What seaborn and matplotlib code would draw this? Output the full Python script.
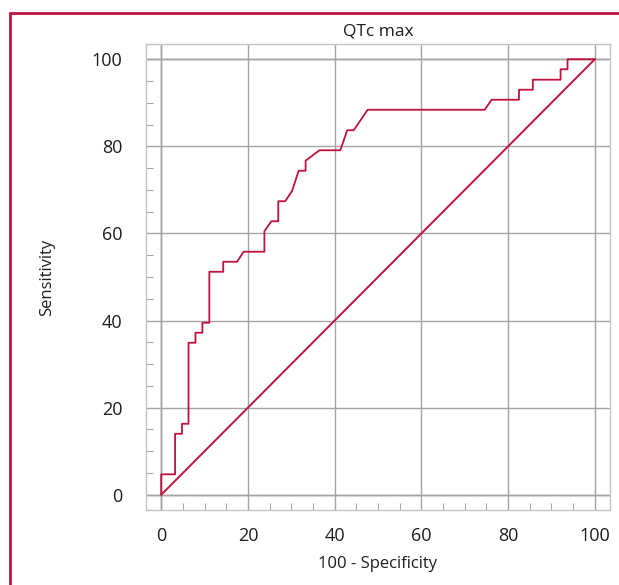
import numpy as np
import pandas as pd
import seaborn as sns
import matplotlib.pyplot as plt
from matplotlib.lines import Line2D
from matplotlib.ticker import MultipleLocator

# ROC curve vertices (100 - specificity, sensitivity)
fpr = [0, 0, 3.2, 3.2, 4.8, 4.8, 6.3, 6.3, 7.9, 7.9, 9.5, 9.5, 11.1, 11.1,
       14.3, 14.3, 17.5, 19.0, 23.8, 23.8, 25.4, 27.0, 27.0, 28.6, 30.2,
       31.7, 33.3, 33.3, 36.5, 41.3, 42.9, 44.4, 47.6, 74.6, 76.2, 82.5,
       82.5, 85.7, 85.7, 92.1, 92.1, 93.7, 93.7, 100]
tpr = [0, 4.7, 4.7, 14.0, 14.0, 16.3, 16.3, 34.9, 34.9, 37.2, 37.2, 39.5,
       39.5, 51.2, 51.2, 53.5, 53.5, 55.8, 55.8, 60.5, 62.8, 62.8, 67.4,
       67.4, 69.8, 74.4, 74.4, 76.7, 79.1, 79.1, 83.7, 83.7, 88.4, 88.4,
       90.7, 90.7, 93.0, 93.0, 95.3, 95.3, 97.7, 97.7, 100, 100]
ref_x = [0, 100]
ref_y = [0, 100]
ticks = [0, 20, 40, 60, 80, 100]

red = "#c0123c"
sns.set_style("white")
plt.rcParams['font.family'] = ['Open Sans', 'DejaVu Sans']

fig = plt.figure(figsize=(6.19, 5.85), dpi=100)
ax = fig.add_axes([0.2359, 0.1282, 0.7496, 0.7966])

roc = pd.DataFrame({"x": fpr, "y": tpr})
diag = pd.DataFrame({"x": ref_x, "y": ref_y})
sns.lineplot(data=diag, x="x", y="y", color=red, lw=1.4, sort=False, estimator=None, ax=ax)
sns.lineplot(data=roc, x="x", y="y", color=red, lw=1.3, sort=False, estimator=None, ax=ax)

ax.set_xlim(-3.5, 103.5)
ax.set_ylim(-3.5, 103.5)
ax.set_xticks(ticks)
ax.set_yticks(ticks)
ax.xaxis.set_minor_locator(MultipleLocator(5))
ax.yaxis.set_minor_locator(MultipleLocator(5))
ax.grid(True, which='major', color='#a4a4a4', lw=1.0)
ax.set_axisbelow(True)
ax.axvline(0, color='#7c7c7c', lw=1.0, zorder=0.5)
ax.axhline(0, color='#7c7c7c', lw=1.0, zorder=0.5)
ax.axhline(100, color='#7c7c7c', lw=1.0, zorder=0.5)

ax.tick_params(axis='both', which='major', length=0, labelsize=13, colors='#1e1e1e')
ax.tick_params(axis='x', which='major', pad=12)
ax.tick_params(axis='y', which='major', pad=17)
ax.tick_params(axis='both', which='minor', direction='in', length=5, width=0.8,
               color='#a8a8a8', bottom=True, left=True, top=False, right=False)
for s in ax.spines.values():
    s.set_color('#c4c4c4')
    s.set_linewidth(1.0)

ax.set_title("QTc max", fontsize=12.5, color='#1e1e1e', pad=6)
ax.set_xlabel("100 - Specificity", fontsize=12, color='#1e1e1e', labelpad=8)
ax.set_ylabel("Sensitivity", fontsize=12, color='#1e1e1e', labelpad=26)

# crimson frame on left and top
fig.add_artist(Line2D([9.5 / 619, 9.5 / 619], [0, 1 - 12.5 / 585], color=red, lw=2,
                      transform=fig.transFigure))
fig.add_artist(Line2D([9.5 / 619, 1], [1 - 12.5 / 585, 1 - 12.5 / 585], color=red, lw=2,
                      transform=fig.transFigure))

fig.savefig("out.png", dpi=100)
